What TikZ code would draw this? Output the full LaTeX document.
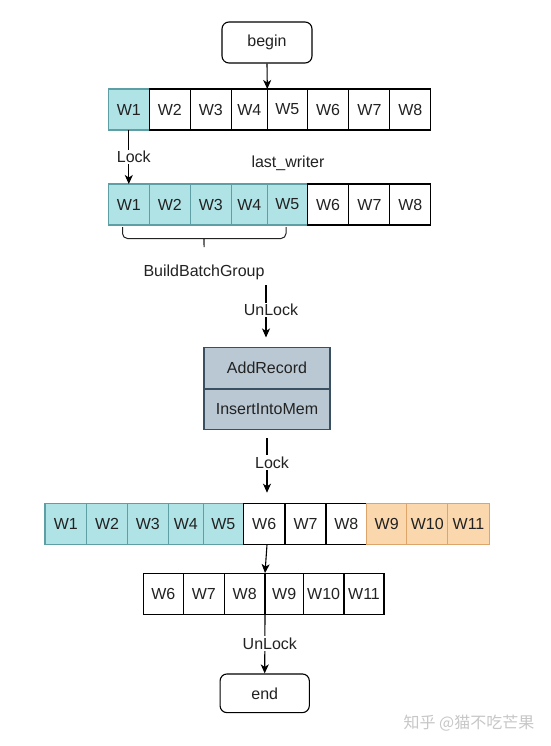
\documentclass[tikz,border=0pt]{standalone}
\usepackage{fontspec}
\setmainfont{Liberation Sans}
\newfontfamily\cjkfont{Noto Sans CJK SC}
\usepackage{tikz}
\usetikzlibrary{arrows.meta}
\usetikzlibrary{positioning}

\definecolor{tealfill}{HTML}{B0E3E6}
\definecolor{tealline}{HTML}{5E9FA5}
\definecolor{orangefill}{HTML}{FAD7AC}
\definecolor{orangeline}{HTML}{DDA56A}
\definecolor{slatefill}{HTML}{BAC8D3}
\definecolor{slateline}{HTML}{3A4F60}
\definecolor{inkgray}{HTML}{222222}

\begin{document}
\begin{tikzpicture}[
  x=1pt, y=-1pt,
  every node/.style={font=\fontsize{16}{18}\selectfont, text=inkgray},
  > = {Stealth[length=9pt,width=8pt,inset=2.5pt]},
  line width=1.1pt,
  cell/.style = {draw=black, fill=white, minimum height=41pt, inner sep=0pt, outer sep=0pt},
  cw/.style = {minimum width=#1},
  tcell/.style = {cell, draw=tealline, fill=tealfill},
  ocell/.style = {cell, draw=orangeline, fill=orangefill},
  scell/.style = {cell, draw=slateline, fill=slatefill, minimum width=126pt},
  term/.style = {draw=black, fill=white, rounded corners=7pt, inner sep=0pt},
  lbl/.style = {fill=white, inner sep=1.5pt, xshift=5pt}
  ]
	\useasboundingbox[fill=white] (0,0) rectangle (550,746);

	\node[term, minimum width=90pt, minimum height=41pt] (begin) at (267,42.5) {begin};

	% first row
	\node[tcell, cw=41pt, anchor=west] (r1w1) at (108.3,109.5) {W1};
	\node[cell, cw=41pt, right=0pt of r1w1] (r1w2) {W2};
	\node[cell, cw=41pt, right=0pt of r1w2] (r1w3) {W3};
	\node[cell, cw=36pt, right=0pt of r1w3] (r1w4) {W4};
	\node[cell, cw=40pt, right=0pt of r1w4] (r1w5) {W5};
	\node[cell, cw=41.6pt, right=0pt of r1w5] (r1w6) {W6};
	\node[cell, cw=41pt, right=0pt of r1w6] (r1w7) {W7};
	\node[cell, cw=40.7pt, right=0pt of r1w7] (r1w8) {W8};

	% second row
	\node[tcell, cw=41pt, anchor=west] (r2w1) at (108.3,204.5) {W1};
	\node[tcell, cw=41pt, right=0pt of r2w1] (r2w2) {W2};
	\node[tcell, cw=41pt, right=0pt of r2w2] (r2w3) {W3};
	\node[tcell, cw=36pt, right=0pt of r2w3] (r2w4) {W4};
	\node[tcell, cw=40pt, right=0pt of r2w4] (r2w5) {W5};
	\node[cell, cw=41.6pt, right=0pt of r2w5] (r2w6) {W6};
	\node[cell, cw=41pt, right=0pt of r2w6] (r2w7) {W7};
	\node[cell, cw=40.7pt, right=0pt of r2w7] (r2w8) {W8};

	\node (lastw) at (288,163) {last\_writer};

	\draw[draw=inkgray, line width=1pt, rounded corners=5pt] (122.5,227) |- (199,238.5) to[out=0,in=90] (204,250) to[out=90,in=180] (209,238.5) -| (286,227);
	\node (bbg) at (204,272) {BuildBatchGroup};

	\node[scell, minimum height=41.5pt] (rec1) at (267,368.2) {AddRecord};
	\node[scell, minimum height=40.5pt, below=0pt of rec1] (rec2) {InsertIntoMem};

	% third row
	\node[tcell, cw=41.7pt, anchor=west] (r3w1) at (45,524.2) {W1};
	\node[tcell, cw=40.6pt, right=0pt of r3w1] (r3w2) {W2};
	\node[tcell, cw=41pt, right=0pt of r3w2] (r3w3) {W3};
	\node[tcell, cw=35pt, right=0pt of r3w3] (r3w4) {W4};
	\node[tcell, cw=40pt, right=0pt of r3w4] (r3w5) {W5};
	\node[cell, cw=41.7pt, right=0pt of r3w5] (r3w6) {W6};
	\node[cell, cw=41pt, right=0pt of r3w6] (r3w7) {W7};
	\node[cell, cw=40.7pt, right=0pt of r3w7] (r3w8) {W8};
	\node[ocell, cw=40pt, right=0pt of r3w8] (r3w9) {W9};
	\node[ocell, cw=41pt, right=0pt of r3w9] (r3w10) {W10};
	\node[ocell, cw=41.6pt, right=0pt of r3w10] (r3w11) {W11};

	% fourth row
	\node[cell, cw=40pt, anchor=west] (r4w6) at (143.3,593.6) {W6};
	\node[cell, cw=41pt, right=0pt of r4w6] (r4w7) {W7};
	\node[cell, cw=40.7pt, right=0pt of r4w7] (r4w8) {W8};
	\node[cell, cw=38.3pt, right=0pt of r4w8] (r4w9) {W9};
	\node[cell, cw=40.7pt, right=0pt of r4w9] (r4w10) {W10};
	\node[cell, cw=40pt, right=0pt of r4w10] (r4w11) {W11};

	\node[term, minimum width=89.3pt, minimum height=38.7pt] (end) at (264.7,693.3) {end};

	\coordinate (@unlock) at (266,285);

	\draw[->] (begin.south) -- (r1w4.north east);
	\draw[->] (r1w1.south) -- node[lbl] {Lock} (r2w1.north);
	\draw[->, shorten >=10pt] (@unlock) -- node[lbl, pos=.4] {UnLock} (@unlock |- rec1.north);
	\draw[->, shorten <=9pt, shorten >=11pt] (rec2.south) -- node[lbl, pos=.45] {Lock} (rec2.south |- r3w6.north);
	\draw[->] (rec2.south |- r3w6.south) -- (r4w8.north east);
	\draw[->] (r4w8.south east) -- node[lbl] {UnLock} (end.north);

	\node[font=\cjkfont\fontsize{16}{18}\selectfont, text=black!22] (mark) at (469,723) {知乎 @猫不吃芒果};

\end{tikzpicture}
\end{document}
